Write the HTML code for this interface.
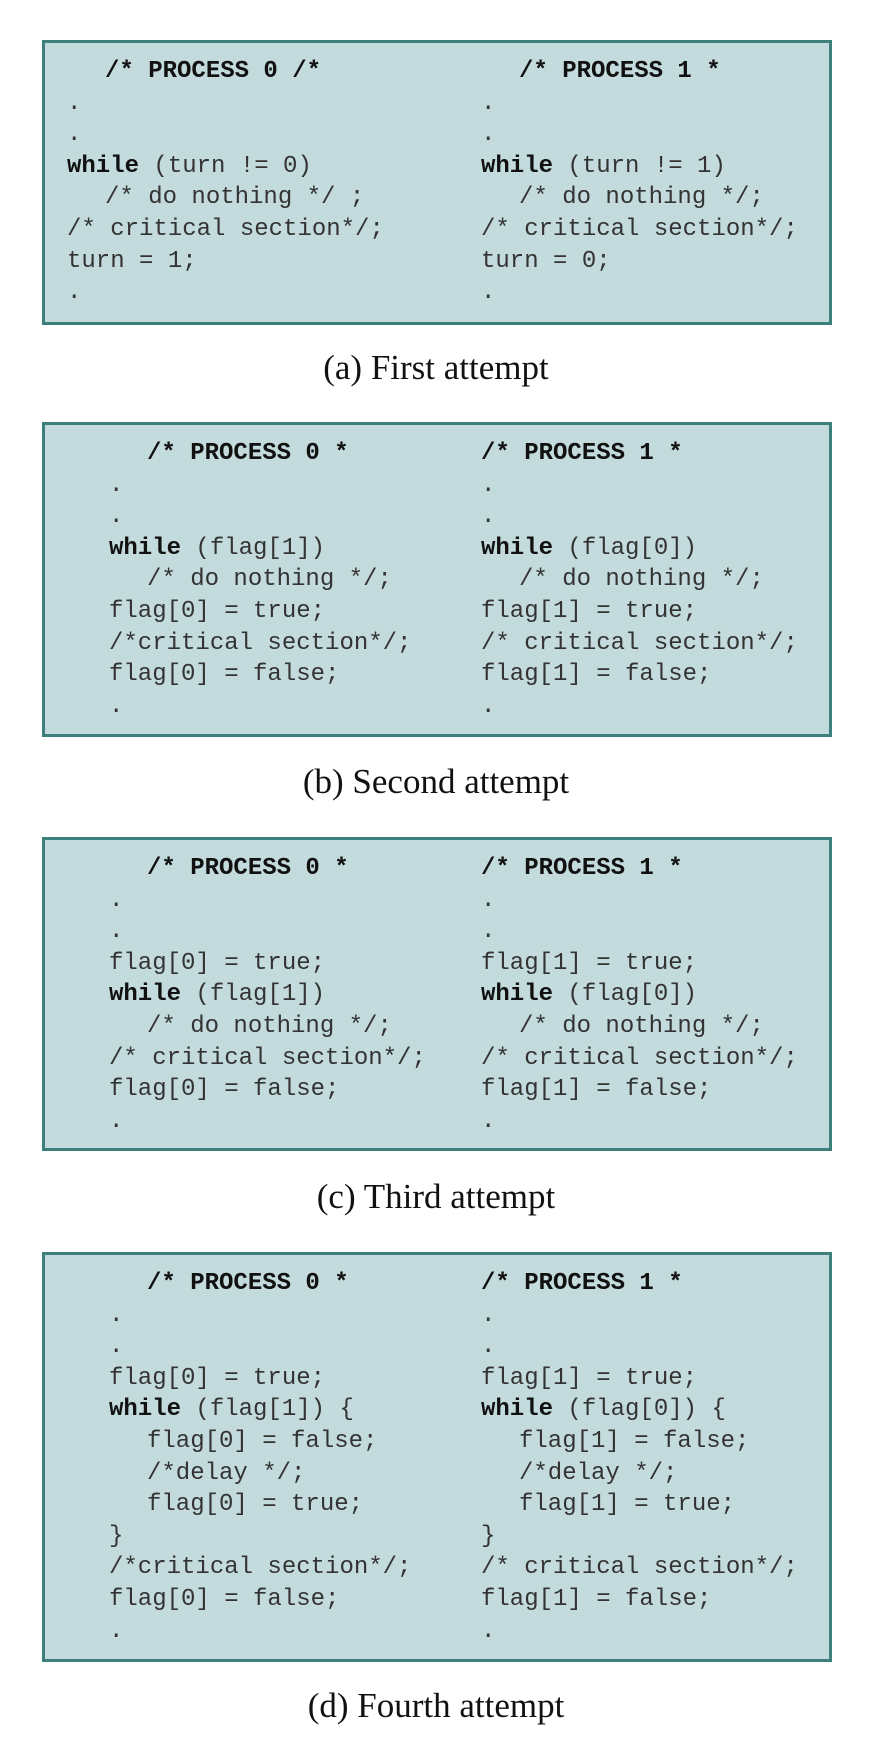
<!DOCTYPE html>
<html><head><meta charset="utf-8"><style>
body{margin:0;width:872px;height:1740px;background:#fff;position:relative;overflow:hidden}
.box{position:absolute;left:42px;width:790px;background:#c4dbdd;border:3px solid #3d807b;box-sizing:border-box}
.col{position:absolute;top:13px;font-family:"Liberation Mono",monospace;font-size:24px;line-height:31.6px;color:#333}
.col div{height:31.6px;white-space:pre}
.in{padding-left:38px}
b{font-weight:bold;color:#111}
.cap{position:absolute;left:0;width:872px;text-align:center;font-family:"Liberation Serif",serif;font-size:35px;color:#111;line-height:40px}
</style></head><body>
<div class="box" style="top:40px;height:285px">
 <div class="col" style="left:22px">
  <div class="in"><b>/* PROCESS 0 /*</b></div><div>.</div><div>.</div><div><b>while</b> (turn != 0)</div><div class="in">/* do nothing */ ;</div><div>/* critical section*/;</div><div>turn = 1;</div><div>.</div>
 </div>
 <div class="col" style="left:436px">
  <div class="in"><b>/* PROCESS 1 *</b></div><div>.</div><div>.</div><div><b>while</b> (turn != 1)</div><div class="in">/* do nothing */;</div><div>/* critical section*/;</div><div>turn = 0;</div><div>.</div>
 </div>
</div>
<div class="cap" style="top:348px">(a) First attempt</div>

<div class="box" style="top:422px;height:315px">
 <div class="col" style="left:64px">
  <div class="in"><b>/* PROCESS 0 *</b></div><div>.</div><div>.</div><div><b>while</b> (flag[1])</div><div class="in">/* do nothing */;</div><div>flag[0] = true;</div><div>/*critical section*/;</div><div>flag[0] = false;</div><div>.</div>
 </div>
 <div class="col" style="left:436px">
  <div><b>/* PROCESS 1 *</b></div><div>.</div><div>.</div><div><b>while</b> (flag[0])</div><div class="in">/* do nothing */;</div><div>flag[1] = true;</div><div>/* critical section*/;</div><div>flag[1] = false;</div><div>.</div>
 </div>
</div>
<div class="cap" style="top:762px">(b) Second attempt</div>

<div class="box" style="top:837px;height:314px">
 <div class="col" style="left:64px">
  <div class="in"><b>/* PROCESS 0 *</b></div><div>.</div><div>.</div><div>flag[0] = true;</div><div><b>while</b> (flag[1])</div><div class="in">/* do nothing */;</div><div>/* critical section*/;</div><div>flag[0] = false;</div><div>.</div>
 </div>
 <div class="col" style="left:436px">
  <div><b>/* PROCESS 1 *</b></div><div>.</div><div>.</div><div>flag[1] = true;</div><div><b>while</b> (flag[0])</div><div class="in">/* do nothing */;</div><div>/* critical section*/;</div><div>flag[1] = false;</div><div>.</div>
 </div>
</div>
<div class="cap" style="top:1177px">(c) Third attempt</div>

<div class="box" style="top:1252px;height:410px">
 <div class="col" style="left:64px">
  <div class="in"><b>/* PROCESS 0 *</b></div><div>.</div><div>.</div><div>flag[0] = true;</div><div><b>while</b> (flag[1]) {</div><div class="in">flag[0] = false;</div><div class="in">/*delay */;</div><div class="in">flag[0] = true;</div><div>}</div><div>/*critical section*/;</div><div>flag[0] = false;</div><div>.</div>
 </div>
 <div class="col" style="left:436px">
  <div><b>/* PROCESS 1 *</b></div><div>.</div><div>.</div><div>flag[1] = true;</div><div><b>while</b> (flag[0]) {</div><div class="in">flag[1] = false;</div><div class="in">/*delay */;</div><div class="in">flag[1] = true;</div><div>}</div><div>/* critical section*/;</div><div>flag[1] = false;</div><div>.</div>
 </div>
</div>
<div class="cap" style="top:1686px">(d) Fourth attempt</div>
</body></html>
